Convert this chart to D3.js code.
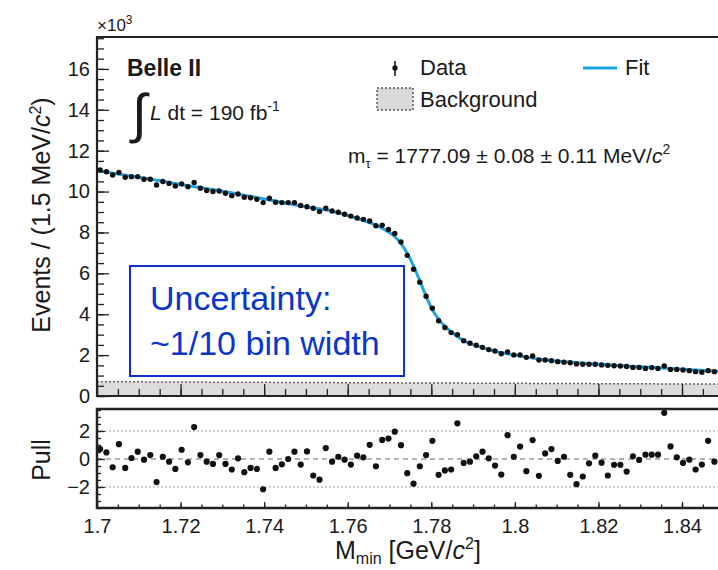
<!DOCTYPE html>
<html>
<head>
<meta charset="utf-8">
<script src="https://cdn.jsdelivr.net/npm/d3@7"></script>
<style>
  body { margin: 0; background: #fff; }
  svg { display: block; }
  text { font-family: "Liberation Sans", Arial, Helvetica, sans-serif; fill: #1a1a1a; }
</style>
</head>
<body>
<svg width="718" height="570"></svg>
<script>
// bin centres, 1.5 MeV bins (GeV)
const massBins = [
  1.70075, 1.70225, 1.70375, 1.70525, 1.70675, 1.70825, 1.70975, 1.71125, 1.71275, 1.71425,
  1.71575, 1.71725, 1.71875, 1.72025, 1.72175, 1.72325, 1.72475, 1.72625, 1.72775, 1.72925,
  1.73075, 1.73225, 1.73375, 1.73525, 1.73675, 1.73825, 1.73975, 1.74125, 1.74275, 1.74425,
  1.74575, 1.74725, 1.74875, 1.75025, 1.75175, 1.75325, 1.75475, 1.75625, 1.75775, 1.75925,
  1.76075, 1.76225, 1.76375, 1.76525, 1.76675, 1.76825, 1.76975, 1.77125, 1.77275, 1.77425,
  1.77575, 1.77725, 1.77875, 1.78025, 1.78175, 1.78325, 1.78475, 1.78625, 1.78775, 1.78925,
  1.79075, 1.79225, 1.79375, 1.79525, 1.79675, 1.79825, 1.79975, 1.80125, 1.80275, 1.80425,
  1.80575, 1.80725, 1.80875, 1.81025, 1.81175, 1.81325, 1.81475, 1.81625, 1.81775, 1.81925,
  1.82075, 1.82225, 1.82375, 1.82525, 1.82675, 1.82825, 1.82975, 1.83125, 1.83275, 1.83425,
  1.83575, 1.83725, 1.83875, 1.84025, 1.84175, 1.84325, 1.84475, 1.84625, 1.84775
];

// events per bin, x10^3
const dataEvents = [
  11.06, 10.97, 10.81, 10.93, 10.70, 10.73, 10.73, 10.60, 10.60, 10.32,
  10.49, 10.40, 10.27, 10.37, 10.24, 10.44, 10.16, 10.05, 10.00, 10.03,
  9.92, 9.80, 9.88, 9.72, 9.70, 9.62, 9.46, 9.67, 9.48, 9.46,
  9.46, 9.46, 9.32, 9.26, 9.18, 9.02, 9.18, 9.05, 8.99, 8.89,
  8.80, 8.71, 8.64, 8.56, 8.33, 8.35, 8.15, 7.95, 7.53, 6.88,
  6.20, 5.57, 4.88, 4.29, 3.68, 3.35, 3.10, 3.00, 2.70, 2.58,
  2.48, 2.38, 2.27, 2.20, 2.07, 2.15, 2.01, 2.01, 1.89, 1.96,
  1.76, 1.76, 1.73, 1.68, 1.65, 1.63, 1.57, 1.55, 1.55, 1.55,
  1.52, 1.50, 1.48, 1.47, 1.44, 1.40, 1.40, 1.35, 1.39, 1.35,
  1.47, 1.30, 1.30, 1.27, 1.24, 1.19, 1.16, 1.24, 1.19
];

const pullValues = [
  0.71, 0.47, -0.59, 1.06, -0.64, 0.07, 0.52, -0.05, 0.28, -1.65,
  0.16, -0.19, -0.71, 0.66, -0.24, 2.28, 0.28, -0.19, -0.35, 0.28,
  -0.35, -0.75, 0.05, -0.94, -0.64, -0.71, -2.16, 0.52, -0.64, -0.38,
  0.00, 0.52, -0.40, 0.54, -1.18, -1.48, 0.78, -0.19, 0.16, -0.05,
  -0.40, 0.24, 0.12, 1.01, -0.52, 1.36, 1.46, 1.95, 0.99, -1.01,
  -1.76, -0.52, 0.28, 1.30, -1.13, -0.82, -0.75, 2.55, -0.28, -0.19,
  0.19, 0.52, 0.05, -0.47, -1.11, 1.70, 0.16, 0.89, -0.87, 1.35,
  -1.20, 0.40, 0.71, -0.14, 0.16, -1.13, -1.80, -1.25, -0.31, 0.24,
  -0.26, -1.18, -0.42, -0.42, -0.90, 0.19, -0.07, 0.31, 0.31, 0.31,
  3.30, 0.90, 0.12, -0.28, -0.05, -0.75, -0.40, 1.30, -0.19
];

// fit curve
const fitMass = [
  1.700, 1.710, 1.720, 1.730, 1.740, 1.750, 1.756, 1.762, 1.766, 1.769,
  1.7713, 1.7728, 1.7743, 1.7758, 1.7773, 1.7788, 1.7803, 1.7818, 1.7833, 1.7848,
  1.7863, 1.788, 1.791, 1.795, 1.800, 1.806, 1.812, 1.820, 1.830, 1.840, 1.850
];
const fitEvents = [
  11.02, 10.70, 10.35, 10.02, 9.64, 9.25, 9.05, 8.70, 8.42, 8.12,
  7.79, 7.44, 6.96, 6.34, 5.61, 4.86, 4.20, 3.75, 3.40, 3.14,
  2.90, 2.68, 2.45, 2.20, 2.00, 1.80, 1.68, 1.55, 1.43, 1.31, 1.20
];

const bkgMass = [1.70, 1.775, 1.85];
const bkgEvents = [0.70, 0.64, 0.58];

const xTicks = [1.70, 1.72, 1.74, 1.76, 1.78, 1.80, 1.82, 1.84];
const yTicks = [0, 2, 4, 6, 8, 10, 12, 14, 16];
const pullTicks = [-2, 0, 2];

const svg = d3.select("svg");

const x = d3.scaleLinear().domain([1.70, 1.85]).range([97, 723.8]);
const y = d3.scaleLinear().domain([0, 17.56]).range([396, 37]);
const yp = d3.scaleLinear().domain([-3.5, 3.57]).range([508, 409]);

svg.append("defs").append("clipPath").attr("id", "clipMain")
  .append("rect").attr("x", 97).attr("y", 37).attr("width", 640).attr("height", 359);
svg.select("defs").append("clipPath").attr("id", "clipPull")
  .append("rect").attr("x", 97).attr("y", 405).attr("width", 640).attr("height", 103);

// ---- main panel ----
const main = svg.append("g").attr("clip-path", "url(#clipMain)");

const bkgArea = d3.area().x((d, i) => x(bkgMass[i])).y0(y(0)).y1(d => y(d));
main.append("path").datum(bkgEvents).attr("d", bkgArea).attr("fill", "#dcdcdc");
main.append("path").datum(bkgEvents)
  .attr("d", d3.line().x((d, i) => x(bkgMass[i])).y(d => y(d)))
  .attr("fill", "none").attr("stroke", "#666").attr("stroke-width", 1.5)
  .attr("stroke-dasharray", "2,2");

main.append("path").datum(fitEvents)
  .attr("d", d3.line().x((d, i) => x(fitMass[i])).y(d => y(d)).curve(d3.curveMonotoneX))
  .attr("fill", "none").attr("stroke", "#1ea7e6").attr("stroke-width", 3);

main.selectAll("circle.data").data(dataEvents).join("circle")
  .attr("class", "data")
  .attr("cx", (d, i) => x(massBins[i])).attr("cy", d => y(d))
  .attr("r", 2.7).attr("fill", "#111");

// axes, ticks pointing inwards
const yMinor = d3.range(0, 17.6, 0.5);
svg.append("g").attr("transform", "translate(97,0)")
  .call(d3.axisLeft(y).tickValues(yMinor).tickSize(-7).tickSizeOuter(0).tickFormat(""))
  .call(g => g.select(".domain").remove());
const yAx = svg.append("g").attr("transform", "translate(97,0)")
  .call(d3.axisLeft(y).tickValues(yTicks).tickSize(-12).tickSizeOuter(0).tickPadding(7));
yAx.select(".domain").remove();
yAx.selectAll("text").attr("font-size", 20);

const xMinor = d3.range(1.70, 1.851, 0.005);
svg.append("g").attr("transform", "translate(0,396)")
  .call(d3.axisBottom(x).tickValues(xMinor).tickSize(-7).tickSizeOuter(0).tickFormat(""))
  .call(g => g.select(".domain").remove());
svg.append("g").attr("transform", "translate(0,396)")
  .call(d3.axisBottom(x).tickValues(xTicks).tickSize(-12).tickSizeOuter(0).tickFormat(""))
  .call(g => g.select(".domain").remove());
svg.selectAll(".tick line").attr("stroke", "#222").attr("stroke-width", 1.3);

// frame
svg.append("path").attr("d", "M720,37 H97 V396 H720")
  .attr("fill", "none").attr("stroke", "#222").attr("stroke-width", 2.2);

// ---- pull panel ----
const pull = svg.append("g").attr("clip-path", "url(#clipPull)");
pullTicks.forEach(t => {
  pull.append("line").attr("x1", 97).attr("x2", 720).attr("y1", yp(t)).attr("y2", yp(t))
    .attr("stroke", t === 0 ? "#9a9a9a" : "#bdbdbd").attr("stroke-width", 1.6)
    .attr("stroke-dasharray", t === 0 ? "5,4" : "2,2");
});
pull.selectAll("circle.pull").data(pullValues).join("circle")
  .attr("class", "pull")
  .attr("cx", (d, i) => x(massBins[i])).attr("cy", d => yp(d))
  .attr("r", 3.1).attr("fill", "#111");

const pMinor = d3.range(-3.5, 3.6, 0.5);
svg.append("g").attr("transform", "translate(97,0)")
  .call(d3.axisLeft(yp).tickValues(pMinor).tickSize(-4).tickSizeOuter(0).tickFormat(""))
  .call(g => g.select(".domain").remove());
const pAx = svg.append("g").attr("transform", "translate(97,0)")
  .call(d3.axisLeft(yp).tickValues(pullTicks).tickSize(-8).tickSizeOuter(0).tickPadding(7)
    .tickFormat(d => d < 0 ? "\u2212" + Math.abs(d) : d));
pAx.select(".domain").remove();
pAx.selectAll("text").attr("font-size", 20);

svg.append("g").attr("transform", "translate(0,508)")
  .call(d3.axisBottom(x).tickValues(xMinor).tickSize(-3.5).tickSizeOuter(0).tickFormat(""))
  .call(g => g.select(".domain").remove());
const xAx = svg.append("g").attr("transform", "translate(0,508)")
  .call(d3.axisBottom(x).tickValues(xTicks).tickSize(-6).tickSizeOuter(0).tickPadding(11)
    .tickFormat(d => String(+d.toFixed(2))));
xAx.select(".domain").remove();
xAx.selectAll("text").attr("font-size", 20);
svg.selectAll(".tick line").attr("stroke", "#222").attr("stroke-width", 1.3);

svg.append("path").attr("d", "M720,409 H97 V508 H720")
  .attr("fill", "none").attr("stroke", "#222").attr("stroke-width", 2.5);

// ---- titles ----
const yTitle = svg.append("text").attr("transform", "translate(50,215) rotate(-90)")
  .attr("text-anchor", "middle").attr("font-size", 25);
yTitle.append("tspan").text("Events / (1.5 MeV/");
yTitle.append("tspan").attr("font-style", "italic").text("c");
yTitle.append("tspan").attr("font-size", 16).attr("dy", -9).text("2");
yTitle.append("tspan").attr("dy", 9).text(")");

svg.append("text").attr("transform", "translate(50,460) rotate(-90)")
  .attr("text-anchor", "middle").attr("font-size", 25).text("Pull");

const xTitle = svg.append("text").attr("x", 335).attr("y", 559).attr("font-size", 25);
xTitle.append("tspan").text("M");
xTitle.append("tspan").attr("font-size", 16).attr("dy", 5).text("min");
xTitle.append("tspan").attr("dy", -5).text(" [GeV/");
xTitle.append("tspan").attr("font-style", "italic").text("c");
xTitle.append("tspan").attr("font-size", 16).attr("dy", -10).text("2");
xTitle.append("tspan").attr("dy", 10).text("]");

const mult = svg.append("text").attr("x", 97).attr("y", 31).attr("font-size", 17);
mult.append("tspan").text("\u00d710");
mult.append("tspan").attr("font-size", 12).attr("dy", -7).text("3");

// ---- labels ----
svg.append("text").attr("x", 127).attr("y", 76).attr("font-size", 23)
  .attr("font-weight", "bold").text("Belle II");
svg.append("text").attr("x", 132).attr("y", 132).attr("font-size", 54)
  .attr("font-family", "DejaVu Sans").attr("font-weight", 300).text("\u222b");
const lumi = svg.append("text").attr("x", 150).attr("y", 120).attr("font-size", 21);
lumi.append("tspan").attr("font-style", "italic").text("L");
lumi.append("tspan").text(" dt = 190 fb");
lumi.append("tspan").attr("font-size", 14).attr("dy", -9).text("-1");

// legend
svg.append("line").attr("x1", 395).attr("x2", 395).attr("y1", 61).attr("y2", 76)
  .attr("stroke", "#111").attr("stroke-width", 1.5);
svg.append("circle").attr("cx", 395).attr("cy", 68).attr("r", 2.7).attr("fill", "#111");
svg.append("text").attr("x", 420).attr("y", 75).attr("font-size", 22).text("Data");
svg.append("line").attr("x1", 583).attr("x2", 617).attr("y1", 68).attr("y2", 68)
  .attr("stroke", "#1ea7e6").attr("stroke-width", 3);
svg.append("text").attr("x", 625).attr("y", 75).attr("font-size", 22).text("Fit");
svg.append("rect").attr("x", 377).attr("y", 88).attr("width", 36).attr("height", 22)
  .attr("fill", "#d9d9d9").attr("stroke", "#555").attr("stroke-width", 1.5)
  .attr("stroke-dasharray", "2,2");
svg.append("text").attr("x", 420).attr("y", 107).attr("font-size", 22).text("Background");

const mt = svg.append("text").attr("x", 348).attr("y", 163).attr("font-size", 21);
mt.append("tspan").text("m");
mt.append("tspan").attr("font-size", 13).attr("dy", 5).text("\u03c4");
mt.append("tspan").attr("dy", -5).text(" = 1777.09 \u00b1 0.08 \u00b1 0.11 MeV/");
mt.append("tspan").attr("font-style", "italic").text("c");
mt.append("tspan").attr("font-size", 14).attr("dy", -9).text("2");

// annotation box
svg.append("rect").attr("x", 130).attr("y", 266).attr("width", 274).attr("height", 110)
  .attr("fill", "#fff").attr("stroke", "#1030d0").attr("stroke-width", 2);
svg.append("text").attr("x", 150).attr("y", 310).attr("font-size", 34)
  .attr("font-family", "Lato, 'Open Sans', sans-serif").style("fill", "#0a36cc").text("Uncertainty:");
svg.append("text").attr("x", 150).attr("y", 355).attr("font-size", 34)
  .attr("font-family", "Lato, 'Open Sans', sans-serif").style("fill", "#0a36cc").text("~1/10 bin width");
</script>
</body>
</html>
